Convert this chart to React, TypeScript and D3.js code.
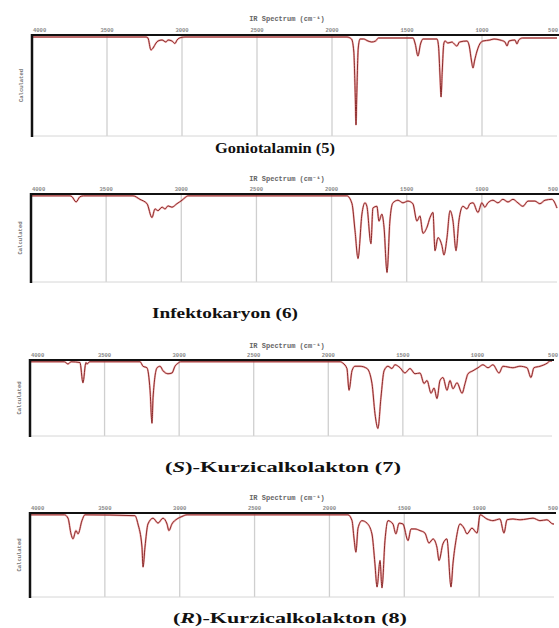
import React from "react";
import * as d3 from "d3";

// ---- Data (wavenumber cm^-1, relative absorption depth 0..1) ----
const WAVENUMBER_TICKS = [4000, 3500, 3000, 2500, 2000, 1500, 1000, 500];
const AXIS_TITLE = "IR Spectrum (cm\u207B\u00B9)";
const Y_LABEL = "Calculated";

const SPECTRUM_5: [number, number][] = [
  [4000, 0.01], [3240, 0.01], [3227, 0.02], [3207, 0.14], [3193, 0.12], [3173, 0.07], [3160, 0.05],
  [3133, 0.04], [3107, 0.06], [3093, 0.04], [3067, 0.05], [3047, 0.075], [3033, 0.04], [3007, 0.015],
  [2980, 0.01], [1900, 0.01], [1870, 0.03], [1855, 0.15], [1845, 0.6], [1840, 0.89], [1835, 0.6],
  [1825, 0.12], [1813, 0.03], [1790, 0.03], [1760, 0.05], [1735, 0.06], [1710, 0.05], [1690, 0.02],
  [1500, 0.02], [1460, 0.02], [1445, 0.08], [1427, 0.2], [1410, 0.08], [1393, 0.03], [1300, 0.03],
  [1290, 0.1], [1280, 0.4], [1273, 0.61], [1265, 0.35], [1255, 0.08], [1247, 0.05], [1227, 0.07],
  [1200, 0.06], [1185, 0.08], [1167, 0.1], [1150, 0.06], [1100, 0.05], [1085, 0.1], [1070, 0.25],
  [1060, 0.32], [1050, 0.25], [1033, 0.15], [1015, 0.08], [993, 0.05], [947, 0.04], [920, 0.03],
  [880, 0.04], [847, 0.06], [833, 0.1], [820, 0.05], [780, 0.04], [767, 0.08], [755, 0.04],
  [730, 0.02], [500, 0.02],
];

const SPECTRUM_6: [number, number][] = [
  [4000, 0.01], [3740, 0.01], [3727, 0.02], [3700, 0.08], [3674, 0.02], [3650, 0.01], [3321, 0.01],
  [3275, 0.05], [3228, 0.1], [3195, 0.26], [3175, 0.16], [3155, 0.18], [3128, 0.14], [3108, 0.16],
  [3088, 0.125], [3062, 0.14], [3029, 0.1], [2995, 0.06], [2975, 0.03], [2955, 0.01], [1898, 0.01],
  [1864, 0.1], [1844, 0.41], [1824, 0.73], [1798, 0.22], [1778, 0.09], [1765, 0.13], [1738, 0.56],
  [1725, 0.15], [1698, 0.13], [1685, 0.3], [1665, 0.22], [1651, 0.37], [1631, 0.89], [1612, 0.3],
  [1592, 0.09], [1558, 0.06], [1525, 0.09], [1492, 0.07], [1459, 0.1], [1432, 0.3], [1412, 0.24],
  [1392, 0.44], [1365, 0.37], [1345, 0.26], [1325, 0.2], [1312, 0.64], [1292, 0.49], [1266, 0.58],
  [1252, 0.69], [1232, 0.49], [1212, 0.18], [1192, 0.3], [1172, 0.64], [1153, 0.3], [1126, 0.13],
  [1099, 0.16], [1079, 0.1], [1059, 0.09], [1026, 0.2], [1000, 0.09], [980, 0.14], [960, 0.09],
  [926, 0.06], [893, 0.09], [860, 0.05], [826, 0.08], [793, 0.05], [760, 0.09], [727, 0.13],
  [693, 0.07], [647, 0.07], [614, 0.1], [580, 0.06], [534, 0.05], [500, 0.15],
];

const SPECTRUM_7: [number, number][] = [
  [4000, 0.01], [3770, 0.01], [3745, 0.04], [3725, 0.01], [3665, 0.02], [3645, 0.29], [3625, 0.02],
  [3618, 0.04], [3600, 0.01], [3262, 0.01], [3242, 0.07], [3216, 0.09], [3195, 0.39], [3182, 0.83],
  [3175, 0.49], [3148, 0.09], [3128, 0.07], [3108, 0.13], [3075, 0.17], [3048, 0.16], [3028, 0.07],
  [3008, 0.03], [2990, 0.01], [1920, 0.01], [1901, 0.03], [1875, 0.1], [1861, 0.39], [1841, 0.13],
  [1821, 0.07], [1787, 0.07], [1740, 0.1], [1707, 0.3], [1687, 0.7], [1667, 0.9], [1647, 0.49],
  [1626, 0.13], [1600, 0.07], [1573, 0.1], [1553, 0.05], [1519, 0.09], [1486, 0.16], [1452, 0.1],
  [1419, 0.17], [1385, 0.16], [1358, 0.3], [1338, 0.26], [1311, 0.43], [1291, 0.36], [1271, 0.5],
  [1251, 0.26], [1231, 0.22], [1204, 0.39], [1184, 0.26], [1164, 0.37], [1137, 0.29], [1103, 0.43],
  [1083, 0.3], [1063, 0.17], [1030, 0.13], [996, 0.09], [963, 0.05], [929, 0.09], [896, 0.05],
  [855, 0.16], [829, 0.07], [762, 0.09], [715, 0.07], [668, 0.09], [641, 0.22], [621, 0.09],
  [580, 0.07], [533, 0.03], [513, 0.0], [500, 0.0],
];

const SPECTRUM_8: [number, number][] = [
  [4000, 0.01], [3770, 0.01], [3746, 0.05], [3726, 0.24], [3713, 0.3], [3693, 0.2], [3679, 0.24],
  [3653, 0.08], [3633, 0.01], [3299, 0.02], [3279, 0.12], [3252, 0.4], [3245, 0.64], [3232, 0.4],
  [3212, 0.12], [3178, 0.05], [3145, 0.11], [3112, 0.05], [3085, 0.12], [3072, 0.2], [3052, 0.12],
  [3018, 0.06], [2985, 0.03], [2951, 0.01], [1876, 0.01], [1849, 0.08], [1836, 0.29], [1823, 0.46],
  [1809, 0.17], [1783, 0.08], [1749, 0.11], [1716, 0.24], [1696, 0.6], [1682, 0.88], [1662, 0.56],
  [1649, 0.89], [1629, 0.32], [1609, 0.08], [1576, 0.12], [1556, 0.24], [1535, 0.11], [1509, 0.12],
  [1475, 0.32], [1455, 0.18], [1429, 0.18], [1395, 0.2], [1362, 0.23], [1335, 0.35], [1308, 0.3],
  [1282, 0.4], [1268, 0.56], [1242, 0.36], [1215, 0.3], [1188, 0.88], [1175, 0.6], [1155, 0.32],
  [1128, 0.12], [1101, 0.17], [1081, 0.24], [1048, 0.17], [1014, 0.23], [994, 0.01], [948, 0.06],
  [908, 0.08], [861, 0.06], [834, 0.23], [814, 0.07], [774, 0.06], [727, 0.07], [681, 0.06],
  [640, 0.05], [594, 0.08], [547, 0.07], [507, 0.12], [500, 0.12],
];

const COMPOUNDS = ["Goniotalamin (5)", "Infektokaryon (6)", "Kurzicalkolakton (7)", "Kurzicalkolakton (8)"];
const PREFIX = ["", "", "S", "R"];
const SPECTRA = [SPECTRUM_5, SPECTRUM_6, SPECTRUM_7, SPECTRUM_8];

// ---- Layout ----
const LAYOUT = [
  { x0: 32, x1: 557, top: 35, bottom: 136, titleY: 21, capX: 275, capY: 153, capSize: 14, capW: 120 },
  { x0: 31, x1: 557, top: 194, bottom: 282, titleY: 181, capX: 225, capY: 318, capSize: 14, capW: 146 },
  { x0: 30, x1: 552, top: 360, bottom: 436, titleY: 348, capX: 283, capY: 472, capSize: 15, capW: 236 },
  { x0: 30, x1: 554, top: 513, bottom: 597, titleY: 500, capX: 290, capY: 623, capSize: 15, capW: 234 },
];

function Panel({ idx }: { idx: number }) {
  const L = LAYOUT[idx];
  const x = d3.scaleLinear().domain([4000, 500]).range([L.x0, L.x1]);
  const y = d3.scaleLinear().domain([0, 1]).range([L.top + 1, L.bottom]);
  const line = d3
    .line<[number, number]>()
    .x((d) => x(d[0]))
    .y((d) => y(d[1]))
    .curve(d3.curveMonotoneX);
  const path = line(SPECTRA[idx]) || "";
  const midY = (L.top + L.bottom) / 2;
  const last = WAVENUMBER_TICKS.length - 1;
  return (
    <g>
      <text
        x={287}
        y={L.titleY}
        textAnchor="middle"
        fontFamily="'Liberation Mono', 'DejaVu Sans Mono', monospace"
        fontSize={7}
        fontWeight="bold"
        fill="#666"
      >
        {AXIS_TITLE}
      </text>
      {WAVENUMBER_TICKS.map((t, i) => (
        <g key={t}>
          {i > 0 && i < last && (
            <line x1={x(t)} x2={x(t)} y1={L.top} y2={L.bottom} stroke="#cfcfcf" strokeWidth={1.3} />
          )}
          <text
            x={i === 0 ? x(t) + 1 : i === last ? 558 : x(t)}
            y={L.top - 3}
            textAnchor={i === 0 ? "start" : i === last ? "end" : "middle"}
            fontFamily="'Liberation Mono', monospace"
            fontSize={5.5}
            fontWeight="bold"
            fill="#888"
          >
            {t}
          </text>
        </g>
      ))}
      <line x1={L.x0} x2={L.x1} y1={L.bottom} y2={L.bottom} stroke="#d6d6d6" strokeWidth={1} />
      <path d={path} fill="none" stroke="#e05050" strokeWidth={2} strokeOpacity={0.45} />
      <path d={path} fill="none" stroke="#8a2a2a" strokeWidth={1} />
      <line x1={L.x0 - 1} x2={L.x1 + 2} y1={L.top} y2={L.top} stroke="#111" strokeWidth={2} />
      <line x1={L.x0} x2={L.x0} y1={L.top - 1} y2={L.bottom + 1} stroke="#111" strokeWidth={2.5} />
      <text
        transform={`translate(${L.x0 - 9},${midY}) rotate(-90)`}
        textAnchor="middle"
        fontFamily="'Liberation Mono', monospace"
        fontSize={5.5}
        fontWeight="bold"
        fill="#777"
      >
        {Y_LABEL}
      </text>
      <text
        x={L.capX}
        y={L.capY}
        textAnchor="middle"
        textLength={L.capW}
        lengthAdjust="spacingAndGlyphs"
        fontFamily="'Liberation Serif', 'Times New Roman', serif"
        fontSize={L.capSize}
        fontWeight="bold"
        fill="#111"
      >
        {PREFIX[idx] ? (
          <>
            {"("}
            <tspan fontStyle="italic">{PREFIX[idx]}</tspan>
            {")-"}
          </>
        ) : null}
        {COMPOUNDS[idx]}
      </text>
    </g>
  );
}

export default function App() {
  return (
    <svg
      width={559}
      height={628}
      style={{ position: "absolute", left: 0, top: 0, background: "#fff" }}
    >
      <rect width={559} height={628} fill="#fff" />
      {LAYOUT.map((_, i) => (
        <Panel key={i} idx={i} />
      ))}
    </svg>
  );
}
